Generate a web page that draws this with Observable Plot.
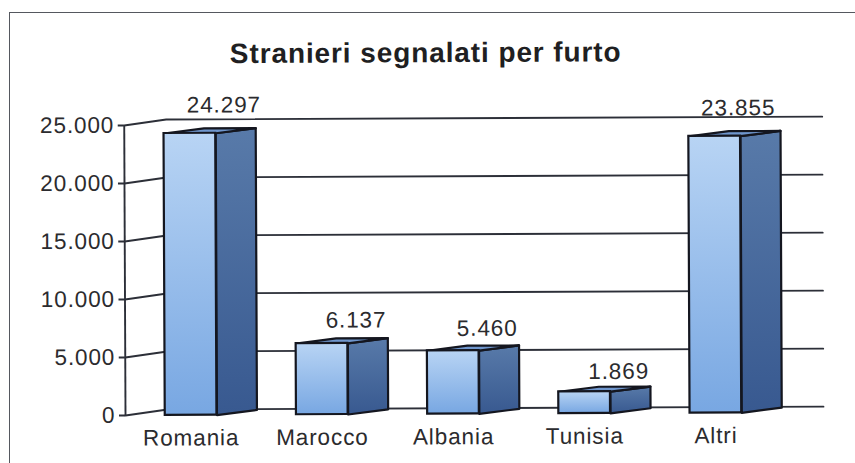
<!DOCTYPE html>
<html>
<head>
<meta charset="utf-8">
<script src="https://cdn.jsdelivr.net/npm/d3@7"></script>
<script src="https://cdn.jsdelivr.net/npm/@observablehq/plot@0.6"></script>
<style>
html,body{margin:0;padding:0;background:#fff;width:855px;height:463px;overflow:hidden}
#frame{position:absolute;left:9px;top:12px;width:900px;height:500px;border:1.5px solid #55585f;box-sizing:border-box}
#chart{position:absolute;left:0;top:0}
#chart svg{transform:rotate(-0.25deg);transform-origin:125px 415px;overflow:visible}
</style>
</head>
<body>
<div id="frame"></div>
<div id="chart"></div>
<script>
const categories = ["Romania", "Marocco", "Albania", "Tunisia", "Altri"];
const values = [24297, 6137, 5460, 1869, 23855];
const valueLabels = ["24.297", "6.137", "5.460", "1.869", "23.855"];
const yTicks = [0, 5000, 10000, 15000, 20000, 25000];
const chartTitle = "Stranieri segnalati per furto";

// depth of the pseudo-3D projection, in scale units
const wallDx = 0.32, wallDy = 500;
const barHalf = 0.197, barDx = 0.305, barDy = 430;
const labelShift = {Altri: -0.08};
const labelRise = {Romania: 28, Altri: 28, Marocco: 23, Albania: 22, Tunisia: 20};

const slots = categories.map((name, i) => ({name, i, value: values[i], label: valueLabels[i]}));
const poly = (key, pts) => pts.map(([x, y]) => ({key, x, y}));
const topFaces = slots.flatMap(d => poly(d.name, [
  [d.i - barHalf, d.value], [d.i + barHalf, d.value],
  [d.i + barHalf + barDx, d.value + barDy], [d.i - barHalf + barDx, d.value + barDy]]));
const sideFaces = slots.flatMap(d => poly(d.name, [
  [d.i + barHalf, 0], [d.i + barHalf + barDx, barDy],
  [d.i + barHalf + barDx, d.value + barDy], [d.i + barHalf, d.value]]));
const wallLines = yTicks.flatMap(v => [
  {key: v, x: -0.5, y: v}, {key: v, x: -0.5 + wallDx, y: v + wallDy}, {key: v, x: 4.5 + wallDx, y: v + wallDy}]);

const gradient = (id, a, b) =>
  `<linearGradient id="${id}" x1="0" y1="0" x2="0" y2="1"><stop offset="0" stop-color="${a}"/><stop offset="1" stop-color="${b}"/></linearGradient>`;
const defs = () => {
  const g = document.createElementNS("http://www.w3.org/2000/svg", "defs");
  g.innerHTML = gradient("frontFill", "#b8d4f4", "#78a7e2") + gradient("sideFill", "#587aa9", "#385990");
  return g;
};
const edge = "#14161f";
const ink = "#2b2b2e";
const thousands = d => d3.format(",")(d).replace(",", ".");

const chart = Plot.plot({
  width: 855, height: 463,
  marginLeft: 125, marginRight: 74, marginTop: 125, marginBottom: 48,
  x: {domain: [-0.5, 4.5], axis: null},
  y: {domain: [0, 25000], axis: null},
  style: {fontFamily: "'Liberation Sans', Arial, sans-serif", fontSize: "22.5px", color: ink, background: "transparent", letterSpacing: "0.9px"},
  marks: [
    defs,
    Plot.line(wallLines, {x: "x", y: "y", z: "key", stroke: "#2c2f38", strokeWidth: 1.9}),
    Plot.ruleX([-0.5], {y1: 0, y2: 25000, stroke: "#2c2f38", strokeWidth: 1.9}),
    Plot.axisY({ticks: yTicks, tickFormat: thousands, tickSize: 6, tickPadding: 4, anchor: "left", strokeWidth: 1.9, stroke: "#2c2f38", fill: ink, fontSize: 22.5, label: null}),
    Plot.line(sideFaces, {x: "x", y: "y", z: "key", curve: "linear-closed", fill: "url(#sideFill)", stroke: edge, strokeWidth: 2.2}),
    Plot.line(topFaces, {x: "x", y: "y", z: "key", curve: "linear-closed", fill: "#6f96cd", stroke: edge, strokeWidth: 2.2}),
    Plot.rect(slots, {x1: d => d.i - barHalf, x2: d => d.i + barHalf, y1: 0, y2: "value", fill: "url(#frontFill)", stroke: edge, strokeWidth: 2.2}),
    ...slots.map(d => Plot.text([d], {
      x: () => d.i + 0.26 + (labelShift[d.name] || 0), y: "value", text: "label", dy: -labelRise[d.name],
      fontSize: 22.5, fill: ink})),
    Plot.text(slots, {x: "i", y: () => 0, text: "name", dy: 23, fontSize: 22.5, fill: ink}),
    Plot.text([chartTitle], {x: () => 1.8, y: () => 25000, dy: -71, fontSize: 28, fontWeight: "bold", fill: "#1f1f22"})
  ]
});
document.getElementById("chart").append(chart);
</script>
</body>
</html>
